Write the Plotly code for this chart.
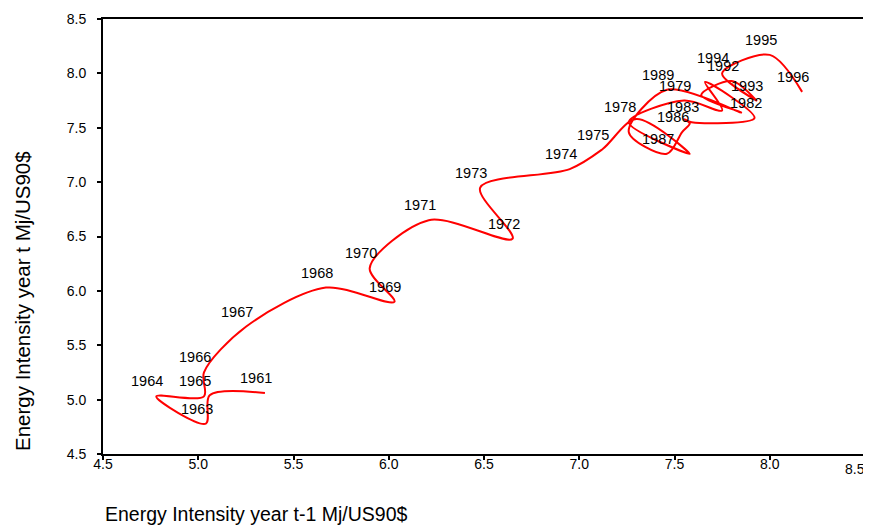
import plotly.graph_objects as go

# Energy intensity (Mj/US90$) by year
years = list(range(1960, 1997))
intensity = [5.35, 5.06, 5.04, 4.78, 5.03, 5.03, 5.25, 5.67, 6.03, 5.90,
             6.21, 6.65, 6.48, 6.95, 7.12, 7.30, 7.58, 7.26, 7.55, 7.75,
             7.66, 7.92, 7.59, 7.55, 7.58, 7.54, 7.46, 7.26, 7.46, 7.85,
             7.64, 7.80, 7.93, 7.75, 8.00, 8.17, 7.83]
labelled_years = [1961, 1963, 1964, 1965, 1966, 1967, 1968, 1969, 1970, 1971,
                  1972, 1973, 1974, 1975, 1978, 1979, 1982, 1983, 1986, 1987,
                  1989, 1992, 1993, 1994, 1995, 1996]
x_ticks = [4.5, 5.0, 5.5, 6.0, 6.5, 7.0, 7.5, 8.0, 8.5]
y_ticks = [4.5, 5.0, 5.5, 6.0, 6.5, 7.0, 7.5, 8.0, 8.5]

prev_year = intensity[:-1]
this_year = intensity[1:]
point_years = years[1:]

FONT = "Liberation Sans, Arial, sans-serif"

fig = go.Figure()
fig.add_trace(go.Scatter(
    x=prev_year, y=this_year, mode="lines",
    line=dict(color="#ff0000", width=2, shape="spline", smoothing=0.9),
    hoverinfo="skip", showlegend=False,
))

for yr, xv, yv in zip(point_years, prev_year, this_year):
    if yr in labelled_years:
        fig.add_annotation(x=xv, y=yv, text=str(yr), showarrow=False,
                           xshift=-9, yshift=15,
                           font=dict(family=FONT, size=14.5, color="#000000"))

axis_common = dict(
    showgrid=False, zeroline=False, showline=True, linecolor="#000000",
    linewidth=2, mirror=True, ticks="outside", ticklen=4, tickwidth=2,
    tickcolor="#000000", automargin=False,
    tickfont=dict(family=FONT, size=14, color="#000000"),
)
# last x tick label is drawn separately so it stays inside the page
x_ticktext = [f"{v:.1f}" for v in x_ticks[:-1]] + [""]
fig.update_xaxes(range=[4.5, 8.5], tickvals=x_ticks, ticktext=x_ticktext,
                 ticklabelstandoff=-8, **axis_common)
fig.update_yaxes(range=[4.5, 8.5], tickvals=y_ticks, ticktext=[f"{v:.1f}" for v in y_ticks],
                 ticklabelstandoff=8, **axis_common)
fig.add_annotation(x=x_ticks[-1], y=0, xref="x", yref="paper", text=f"{x_ticks[-1]:.1f}",
                   showarrow=False, xanchor="right", yanchor="top", xshift=2, yshift=-5,
                   font=dict(family=FONT, size=14, color="#000000"))

fig.add_annotation(text="Energy Intensity year t-1 Mj/US90$", xref="paper", yref="paper",
                   x=0, y=0, xanchor="left", yanchor="middle", yshift=-60,
                   showarrow=False, font=dict(family=FONT, size=19.5, color="#000000"))
fig.add_annotation(text="Energy Intensity year t Mj/US90$", xref="paper", yref="paper",
                   x=0, y=0, xanchor="center", yanchor="middle", textangle=-90,
                   xshift=-81, yshift=153,
                   showarrow=False, font=dict(family=FONT, size=20.5, color="#000000"))

fig.update_layout(
    width=863, height=517,
    margin=dict(l=95, r=6, t=11, b=71, autoexpand=False),
    paper_bgcolor="#ffffff", plot_bgcolor="#ffffff",
    showlegend=False,
)
fig.write_html("out.html")
